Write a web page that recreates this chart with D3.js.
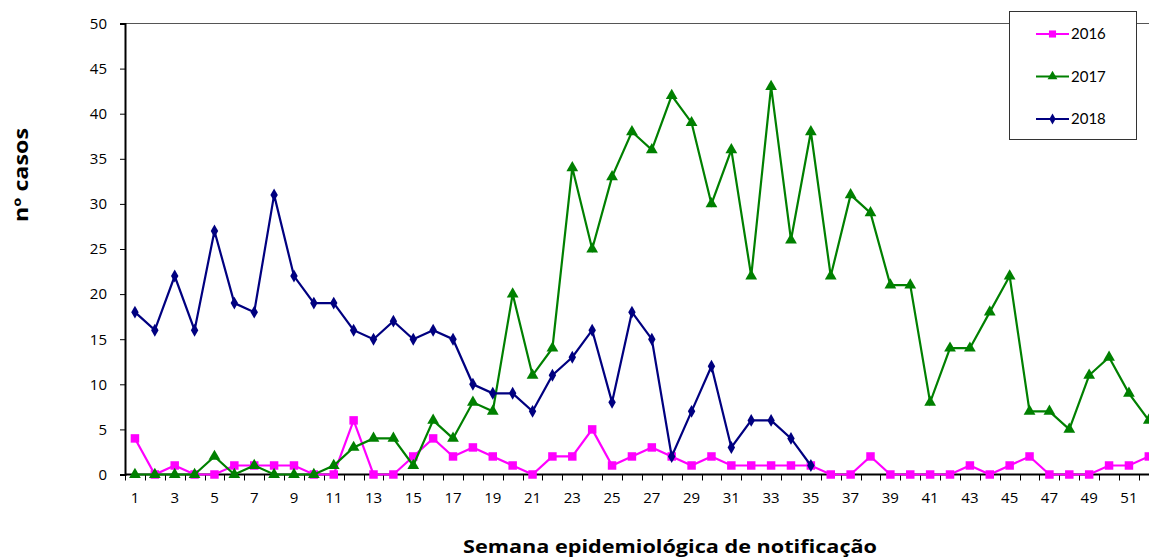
<!DOCTYPE html>
<html>
<head>
<meta charset="utf-8">
<script src="https://cdn.jsdelivr.net/npm/d3@7"></script>
<style>
  body { margin: 0; background: #fff; }
  svg { display: block; }
</style>
</head>
<body>
<svg></svg>
<script>
// weeks 1..52
const weeks = d3.range(1, 53);
const yTicks = [0, 5, 10, 15, 20, 25, 30, 35, 40, 45, 50];

const cases2016 = [4,0,1,0,0,1,1,1,1,0,0,6,0,0,2,4,2,3,2,1,0,2,2,5,1,2,3,2,1,2,1,1,1,1,1,0,0,2,0,0,0,0,1,0,1,2,0,0,0,1,1,2];
const cases2017 = [0,0,0,0,2,0,1,0,0,0,1,3,4,4,1,6,4,8,7,20,11,14,34,25,33,38,36,42,39,30,36,22,43,26,38,22,31,29,21,21,8,14,14,18,22,7,7,5,11,13,9,6];
const cases2018 = [18,16,22,16,27,19,18,31,22,19,19,16,15,17,15,16,15,10,9,9,7,11,13,16,8,18,15,2,7,12,3,6,6,4,1];

const series = [
  { name: '2016', values: cases2016, color: '#ff00ff', symbol: d3.symbolSquare, size: 72 },
  { name: '2017', values: cases2017, color: '#008000', symbol: d3.symbolTriangle, size: 60 },
  { name: '2018', values: cases2018, color: '#000080', symbol: d3.symbolDiamond, size: 48 }
];

const width = 1149, height = 558;
const margin = { left: 125, top: 23, bottom: 83 };
const bandW = 19.88;

const svg = d3.select('svg').attr('width', width).attr('height', height);

// category axis, the right end goes beyond the picture (clipped like the original)
const x = d3.scaleBand()
  .domain(weeks)
  .range([margin.left, margin.left + bandW * weeks.length])
  .paddingInner(0).paddingOuter(0);

const y = d3.scaleLinear().domain([0, 50]).range([height - margin.bottom - 0.5, margin.top + 0.5]);

const xc = d => x(d) + x.bandwidth() / 2;

// frame top line
svg.append('line')
  .attr('x1', margin.left).attr('x2', width)
  .attr('y1', y(50)).attr('y2', y(50))
  .attr('stroke', '#555').attr('stroke-width', 1);

// y axis
const yAxis = svg.append('g')
  .attr('transform', `translate(${margin.left},0)`)
  .call(d3.axisLeft(y).tickValues(yTicks).tickSize(5).tickPadding(13));
yAxis.attr('font-family', 'Open Sans').attr('font-size', 15);
yAxis.select('.domain').attr('stroke', '#000').attr('stroke-width', 2);
yAxis.selectAll('.tick line').attr('stroke', '#000');
yAxis.selectAll('text').attr('fill', '#000');

// x axis: tick marks at category boundaries, labels on odd weeks
const xg = svg.append('g').attr('transform', `translate(0,${y(0)})`);
xg.append('line')
  .attr('x1', margin.left).attr('x2', width)
  .attr('stroke', '#000').attr('stroke-width', 2);
xg.selectAll('line.tk')
  .data(weeks)
  .enter().append('line')
  .attr('class', 'tk')
  .attr('x1', d => Math.round(x(d)) + 0.5).attr('x2', d => Math.round(x(d)) + 0.5)
  .attr('y1', 0).attr('y2', 6)
  .attr('stroke', '#000');
xg.selectAll('text')
  .data(weeks.filter(w => w % 2 === 1))
  .enter().append('text')
  .attr('x', d => xc(d))
  .attr('y', 28)
  .attr('text-anchor', 'middle')
  .attr('font-family', 'Open Sans').attr('font-size', 15)
  .text(d => d);

// lines and markers
const line = d3.line()
  .x((d, i) => xc(weeks[i]))
  .y(d => y(d));

series.forEach(s => {
  svg.append('path')
    .datum(s.values)
    .attr('fill', 'none')
    .attr('stroke', s.color)
    .attr('stroke-width', 2.2)
    .attr('stroke-linejoin', 'miter')
    .attr('d', line);
  svg.selectAll(null)
    .data(s.values)
    .enter().append('path')
    .attr('transform', (d, i) => `translate(${xc(weeks[i])},${y(d)})`)
    .attr('d', d3.symbol(s.symbol, s.size))
    .attr('fill', s.color);
});

// legend
const legend = svg.append('g');
legend.append('rect')
  .attr('x', 1009.5).attr('y', 11.5)
  .attr('width', 127).attr('height', 128)
  .attr('fill', '#fff').attr('stroke', '#333').attr('stroke-width', 1);

series.forEach((s, i) => {
  const ly = 34 + i * 42.5;
  legend.append('line')
    .attr('x1', 1036).attr('x2', 1069)
    .attr('y1', ly).attr('y2', ly)
    .attr('stroke', s.color).attr('stroke-width', 2);
  legend.append('path')
    .attr('transform', `translate(1052.5,${ly})`)
    .attr('d', d3.symbol(s.symbol, s.size * 0.7))
    .attr('fill', s.color);
  legend.append('text')
    .attr('x', 1071).attr('y', ly + 5)
    .attr('font-family', 'Lato').attr('font-size', 15)
    .text(s.name);
});

// axis titles
svg.append('text')
  .attr('transform', 'translate(28,175) rotate(-90)')
  .attr('text-anchor', 'middle')
  .attr('font-family', 'Open Sans').attr('font-weight', 'bold').attr('font-size', 19)
  .attr('textLength', 94).attr('lengthAdjust', 'spacingAndGlyphs')
  .text('nº casos');

svg.append('text')
  .attr('x', 670).attr('y', 553)
  .attr('text-anchor', 'middle')
  .attr('font-family', 'Open Sans').attr('font-weight', 'bold').attr('font-size', 17)
  .attr('textLength', 414).attr('lengthAdjust', 'spacingAndGlyphs')
  .text('Semana epidemiológica de notificação');
</script>
</body>
</html>
